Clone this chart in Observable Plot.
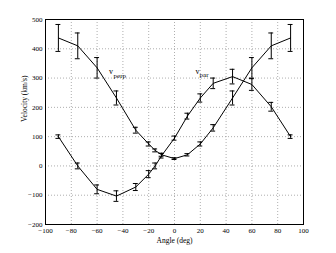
<!DOCTYPE html>
<html><head><meta charset="utf-8">
<script src="https://cdn.jsdelivr.net/npm/d3@7"></script>
<script src="https://cdn.jsdelivr.net/npm/@observablehq/plot@0.6"></script>
<style>body{margin:0;background:#fff}</style>
</head><body><div id="chart"></div>
<script>
const angles = [-90,-75,-60,-45,-30,-20,-15,-10,0,10,20,30,45,60,75,90];
const vPerp = [437,410,335,232,122,75,53,38,25,38,75,130,232,335,410,437];
const vPerpErr = [46,44,35,24,10,7,5,5,3,4,7,11,24,35,44,46];
const vPar = [100,0,-80,-103,-72,-28,0,35,95,170,232,282,305,278,202,100];
const vParErr = [6,10,15,18,12,12,10,8,7,10,14,18,25,20,15,6];
const xTicks = [-100,-80,-60,-40,-20,0,20,40,60,80,100];
const yTicks = [-200,-100,0,100,200,300,400,500];
const labels = [
  {x:-50.7, y:313, main:"v", sub:"perp", sx:-47.2, sy:301},
  {x:16.3, y:313, main:"v", sub:"par", sx:19.4, sy:302}
];
const perp = angles.map((a,i)=>({x:a, y:vPerp[i], e:vPerpErr[i]}));
const par = angles.map((a,i)=>({x:a, y:vPar[i], e:vParErr[i]}));
const all = perp.concat(par);
const cap = 1.9;
const font = "Liberation Serif, Times New Roman, serif";
const chart = Plot.plot({
  width: 336, height: 253,
  marginLeft: 45, marginRight: 33, marginTop: 19, marginBottom: 29,
  style: {fontFamily: font, fontSize: "7px", background: "#fff", color: "#000"},
  x: {domain: [-100,100]},
  y: {domain: [-200,500]},
  marks: [
    Plot.ruleX(xTicks.slice(1,-1), {stroke:"#999", strokeDasharray:"1,2", strokeWidth:0.8}),
    Plot.ruleY(yTicks.slice(1,-1), {stroke:"#999", strokeDasharray:"1,2", strokeWidth:0.8}),
    Plot.frame({stroke:"#000", strokeWidth:1}),
    Plot.axisX(xTicks, {tickSize:0, tickPadding:4, fontSize:7, label:null}),
    Plot.axisY(yTicks, {tickSize:0, tickPadding:3, fontSize:7, label:null}),
    Plot.text(["Angle (deg)"], {frameAnchor:"bottom", dy:16, fontSize:7.5, lineAnchor:"middle"}),
    Plot.text(["Velocity (km/s)"], {frameAnchor:"left", dx:-21, rotate:-90, fontSize:7.5}),
    Plot.line(perp, {x:"x", y:"y", stroke:"#000", strokeWidth:1}),
    Plot.line(par, {x:"x", y:"y", stroke:"#000", strokeWidth:1}),
    Plot.ruleX(all, {x:"x", y1:d=>d.y-d.e, y2:d=>d.y+d.e, stroke:"#000", strokeWidth:1}),
    Plot.ruleY(all, {y:d=>d.y-d.e, x1:d=>d.x-cap, x2:d=>d.x+cap, stroke:"#000", strokeWidth:1}),
    Plot.ruleY(all, {y:d=>d.y+d.e, x1:d=>d.x-cap, x2:d=>d.x+cap, stroke:"#000", strokeWidth:1}),
    Plot.text(labels, {x:"x", y:"y", text:"main", textAnchor:"start", lineAnchor:"bottom", fontSize:8}),
    Plot.text(labels, {x:"sx", y:"sy", text:"sub", textAnchor:"start", lineAnchor:"bottom", fontSize:7})
  ]
});
document.getElementById("chart").appendChild(chart);
</script>
</body></html>
